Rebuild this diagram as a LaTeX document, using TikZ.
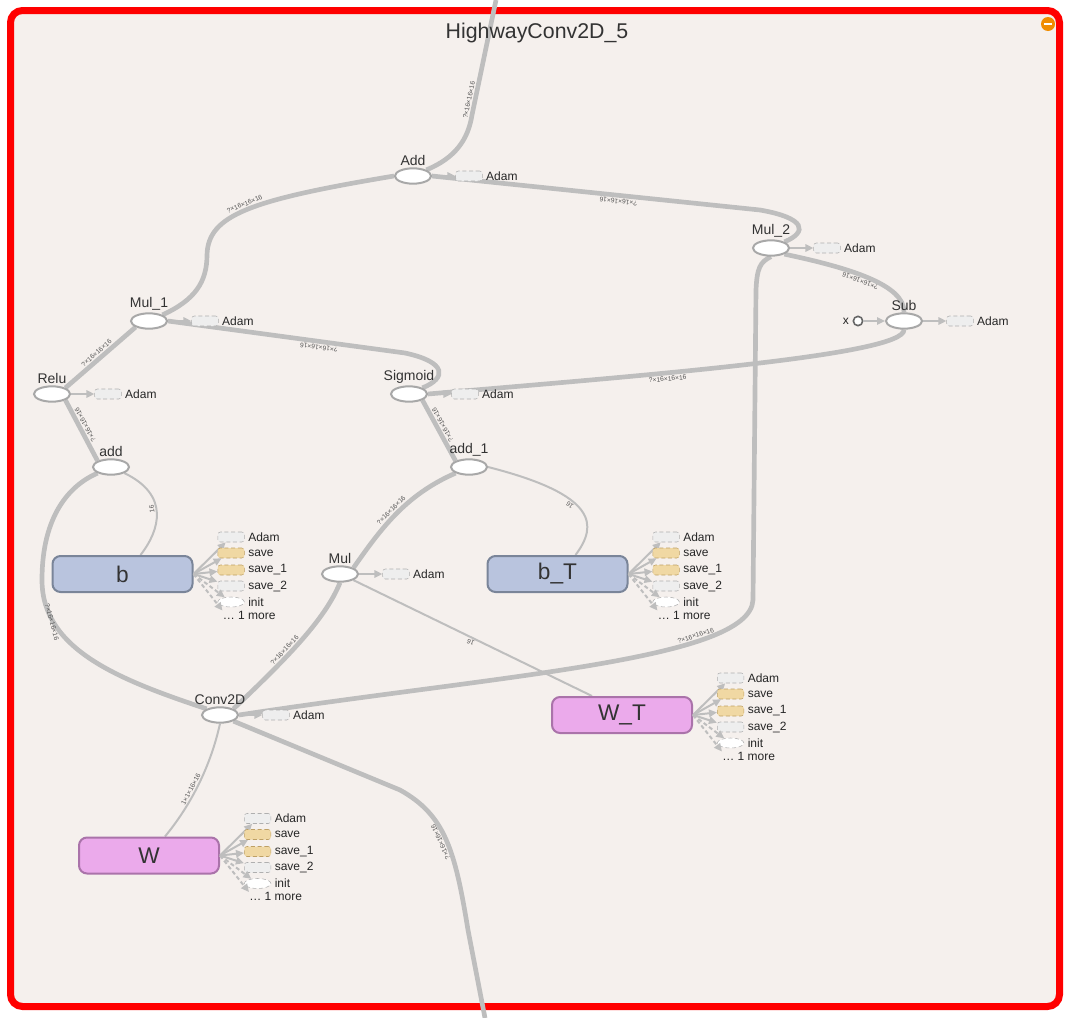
\documentclass[tikz,border=0pt]{standalone}
\usepackage{fontspec}
\setmainfont{Liberation Sans}
\usetikzlibrary{arrows.meta,shapes.geometric,positioning}

\definecolor{bg}{RGB}{245,240,237}
\definecolor{frame}{RGB}{255,0,0}
\definecolor{edge}{RGB}{190,190,190}
\definecolor{opline}{RGB}{168,168,168}
\definecolor{textgray}{RGB}{51,51,51}
\definecolor{labtext}{RGB}{85,85,85}
\definecolor{bfill}{RGB}{185,196,222}
\definecolor{bline}{RGB}{122,133,153}
\definecolor{wfill}{RGB}{235,170,235}
\definecolor{wline}{RGB}{170,115,170}
\definecolor{auxfill}{RGB}{238,238,238}
\definecolor{auxline}{RGB}{175,175,175}
\definecolor{savefill}{RGB}{240,216,163}
\definecolor{saveline}{RGB}{190,160,100}
\definecolor{iconorange}{RGB}{240,140,0}

\pgfdeclarelayer{back}
\pgfdeclarelayer{edges}
\pgfsetlayers{back,edges,main}

\begin{document}
\begin{tikzpicture}[
    x=0.75pt, y=-0.75pt,
    >={Triangle[length=6pt,width=5.5pt]},
    op/.style={ellipse, draw=opline, fill=white, line width=1.5pt,
        minimum width=27pt, minimum height=11.5pt, inner sep=0pt},
    oplab/.style={font=\fontsize{10.5}{12}\selectfont, text=textgray, inner sep=1pt},
    auxbox/.style={draw=auxline, densely dashed, fill=auxfill, rounded corners=2pt,
        minimum width=20pt, minimum height=7.5pt, inner sep=0pt},
    savebox/.style={auxbox, draw=saveline, fill=savefill},
    initbox/.style={ellipse, draw=auxline, densely dashed, fill=white,
        minimum width=20pt, minimum height=7.5pt, inner sep=0pt},
    auxlab/.style={font=\fontsize{9}{10}\selectfont, text=black!85, inner sep=2.5pt},
    attach/.style={draw=edge, line width=1.5pt},
    var/.style={rounded corners=6pt, line width=1.5pt, minimum width=105pt,
        minimum height=27pt, font=\fontsize{17}{17}\selectfont, text=textgray},
    bias/.style={var, fill=bfill, draw=bline},
    weight/.style={var, fill=wfill, draw=wline},
    flow/.style={draw=edge, line width=3.5pt},
    thinflow/.style={draw=edge, line width=1.5pt},
    lab/.style={font=\fontsize{5}{5}\selectfont, text=labtext, sloped,
        allow upside down, inner sep=1pt}
]

\useasboundingbox (0,0) rectangle (1076,1018);

% Frame of the group
\begin{pgfonlayer}{back}
\draw[frame, line width=5.25pt, rounded corners=9pt, fill=bg] (10.5,10.5) rectangle (1059.5,1006.5);
\end{pgfonlayer}
\node[font=\fontsize{16}{16}\selectfont, text=textgray] (title) at (537,33) {HighwayConv2D\_5};
\node[circle, fill=iconorange, minimum size=10.5pt, inner sep=0pt] (collapse) at (1048,24)
    {\color{white}\rule[0.2pt]{5.5pt}{1.6pt}};

% Ops
\node[op, label={[oplab]above:Add}] (Add) at (413,176) {};
\node[op, label={[oplab]above:Mul\_2}] (Mul2) at (771,248) {};
\node[op, label={[oplab]above:Sub}] (Sub) at (904,321) {};
\node[op, label={[oplab]above:Mul\_1}] (Mul1) at (149,321) {};
\node[op, label={[oplab]above:Relu}] (Relu) at (52,394) {};
\node[op, label={[oplab]above:Sigmoid}] (Sigmoid) at (409,394) {};
\node[op, label={[oplab]above:add}] (add) at (111,467) {};
\node[op, label={[oplab]above:add\_1}] (add1) at (469,467) {};
\node[op, label={[oplab]above:Mul}] (Mul) at (340,574) {};
\node[op, label={[oplab]above:Conv2D}] (Conv) at (220,715) {};

% Constant x
\node[circle, draw=black!60, fill=white, line width=1.2pt, minimum size=7pt, inner sep=0pt,
    label={[auxlab]left:x}] (x) at (858,321) {};
\draw[attach,->] (x) -- (Sub);

% Variables
\node[bias] (b) at (122.5,574) {b};
\node[bias] (bT) at (557.5,574) {b\_T};
\node[weight] (WT) at (622,715) {W\_T};
\node[weight] (W) at (149,855.5) {W};

% Free ends of the group
\coordinate (out) at (496,0);
\coordinate (in) at (485,1018);

% Adam links of the ops
\foreach \o in {Add,Mul2,Sub,Mul1,Relu,Sigmoid,Mul,Conv} {
    \node[auxbox, label={[auxlab]right:Adam}] (\o-adam) at ([xshift=42pt]\o) {};
    \draw[attach,->] (\o) -- (\o-adam);
}

% Links of the variables
\foreach \v in {b,bT,WT,W} {
    \foreach \n/\s/\dy/\t/\a in {adam/auxbox/-37/Adam/solid, save/savebox/-21/save/solid,
        save1/savebox/-4/save\_1/solid, save2/auxbox/12/save\_2/solid,
        init/initbox/28/init/densely dashed} {
        \node[\s, anchor=west, label={[auxlab]right:\t}] (\v-\n) at ([shift={(24,\dy)}]\v.east) {};
        \draw[attach, \a, ->] (\v.east) -- (\v-\n);
    }
    \node[auxlab, anchor=west, inner sep=0pt] (\v-more) at ([shift={(29,41)}]\v.east) {\dots\ 1 more};
    \draw[attach, densely dashed, ->] (\v.east) -- (\v-more.north west);
}

\begin{pgfonlayer}{edges}
% Data edges
\draw[flow] (Add.north east) .. controls (455,158) and (468,140) .. (472,115)
    -- node[lab, above, pos=0.12] {?×16×16×16} (out);
\draw[flow] (Mul1.north east) .. controls (195,300) and (207,282) .. (207,255)
    .. controls (208,215) and (250,200) .. node[lab, above, pos=0.5] {?×16×16×16} (Add.west);
\draw[flow] (Mul2.north east) .. controls (808,232) and (806,218) .. (760,210)
    -- node[lab, above, pos=0.43] {?×16×16×16} (Add.east);
\draw[flow] (Sub.north) .. controls (905,285) and (850,268) .. node[lab, above, pos=0.55] {?×16×16×16} (Mul2.south east);
\draw[flow] (Sigmoid.east) .. controls (650,375) and (905,355) .. node[lab, below, pos=0.36] {?×16×16×16} (Sub.south);
\draw[flow] (Sigmoid.north east) .. controls (447,378) and (447,362) .. (405,353)
    -- node[lab, above, pos=0.36] {?×16×16×16} (Mul1.east);
\draw[flow] (Relu.north east) -- node[lab, above, pos=0.5] {?×16×16×16} (Mul1.south west);
\draw[flow] (add.north west) -- node[lab, below, pos=0.55] {?×16×16×16} (Relu.south east);
\draw[flow] (add1.north west) -- node[lab, below, pos=0.55] {?×16×16×16} (Sigmoid.south east);
\draw[flow] (Conv.north west) .. controls (120,680) and (42,650) .. (42,580)
    .. controls (42,515) and (70,485) .. (add.south west);
\path (52,622) node[lab, rotate=-75] {?×16×16×16};
\draw[flow] (Mul.north east) .. controls (380,530) and (405,495) .. node[lab, above, pos=0.5] {?×16×16×16} (add1.south west);
\draw[flow] (Conv.north east) .. controls (285,660) and (325,620) .. node[lab, above, pos=0.4] {?×16×16×16} (Mul.south);
\draw[flow] (Conv.east) .. controls (500,675) and (750,660) .. node[lab, above, pos=0.72] {?×16×16×16} (753,600)
    -- (756,290) .. controls (757,268) and (760,262) .. (Mul2.south);
\draw[flow] (in) -- (468,930) .. controls (455,850) and (445,815) .. node[lab, above, pos=0.5] {?×16×16×16} (400,790)
    -- (Conv.south east);

% Variable edges
\draw[thinflow] ([xshift=13.5pt]b.north) .. controls (160,530) and (170,495) .. node[lab, above, pos=0.55] {16} (add.south east);
\draw[thinflow] ([xshift=13.5pt]bT.north) .. controls (598,525) and (598,495) .. node[lab, above, pos=0.6] {16} (add1.east);
\draw[thinflow] ([xshift=-22.5pt]WT.north) -- node[lab, above, pos=0.5] {16} (Mul.south east);
\draw[thinflow] ([xshift=12pt]W.north) .. controls (195,800) and (212,760) .. node[lab, above, pos=0.4] {1×1×16×16} (Conv.south);
\end{pgfonlayer}

\end{tikzpicture}
\end{document}
